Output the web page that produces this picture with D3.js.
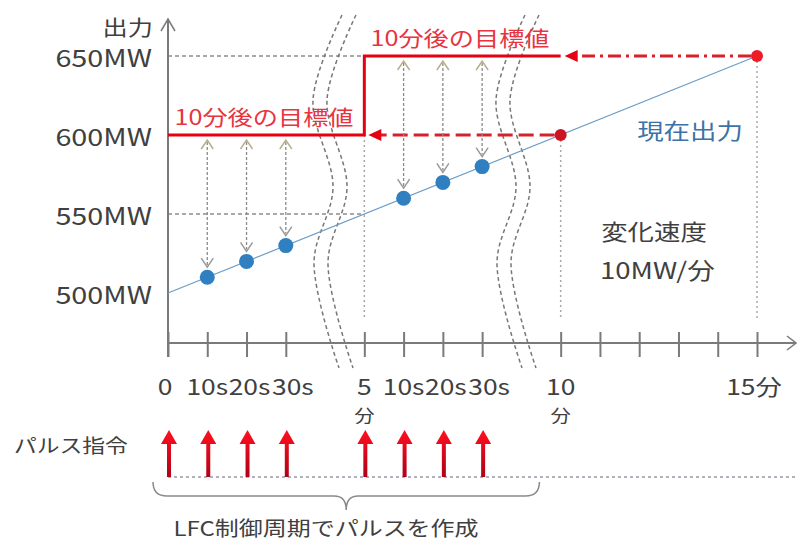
<!DOCTYPE html>
<html>
<head>
<meta charset="utf-8">
<script src="https://cdn.jsdelivr.net/npm/d3@7"></script>
<style>
  html, body { margin: 0; padding: 0; background: #fff; }
  svg { display: block; font-family: "Noto Sans CJK JP", "Noto Sans", sans-serif; }
</style>
</head>
<body>
<svg id="chart" width="797" height="542"></svg>
<script>
// ---- data -------------------------------------------------------------
// x positions are "slots": 0,10s,20s,30s | 5分,+10s,+20s,+30s | 10分 .. 15分
const tickSlots   = [0, 1, 2, 3, 5, 6, 7, 8, 10, 11, 12, 13, 14, 15];
const yTicks      = [500, 550, 600, 650];
const yTickLabels = ["500MW", "550MW", "600MW", "650MW"];

const xLabelSlots = [0, 1, 2, 3, 5, 6, 7, 8, 10, 15];
const xLabels     = ["0", "10s", "20s", "30s", "5\n分", "10s", "20s", "30s", "10\n分", "15分"];

// present output (rate 10MW/分)
const outputSlots  = [0, 15];
const outputValues = [500, 650];

// output sampled at each LFC cycle
const sampleSlots   = [1, 2, 3, 6, 7, 8];
const sampleValues  = [510, 520, 530, 560, 570, 580];
const sampleTargets = [600, 600, 600, 650, 650, 650];

// target 10 minutes ahead
const targetSlots  = [0, 5, 5, 10];
const targetValues = [600, 600, 650, 650];
const targetDotSlots  = [10, 15];
const targetDotValues = [600, 650];

// pulse commands
const pulseSlots = [0, 1, 2, 3, 5, 6, 7, 8];

// ---- layout -----------------------------------------------------------
const svg = d3.select("#chart");
const x = d3.scaleLinear().domain([0, 15]).range([168, 757]);
const y = d3.scaleLinear().domain([500, 650]).range([293, 56]);
const axisY = 343;
const SX = 1.2;                 // horizontal text stretch
const gray = "#7a7a7a", textCol = "#404040";
const red = "#e60012", redText = "#e8343f", blue = "#2f7fc1";

function txt(s, tx, ty, size, color, anchor = "middle") {
  svg.append("text")
    .attr("transform", `translate(${tx},${ty}) scale(${SX},1)`)
    .attr("text-anchor", anchor)
    .attr("dominant-baseline", "central")
    .style("font-size", size + "px")
    .attr("fill", color)
    .text(s);
}

const defs = svg.append("defs");
const grad = defs.append("linearGradient").attr("id", "pulseGrad")
  .attr("x1", 0).attr("y1", 0).attr("x2", 0).attr("y2", 1);
grad.append("stop").attr("offset", "0%").attr("stop-color", "#ff1020");
grad.append("stop").attr("offset", "100%").attr("stop-color", "#b00018");

// ---- grid / guides ----------------------------------------------------
[650, 550].forEach(v => {
  svg.append("line")
    .attr("x1", x(0)).attr("x2", x(5)).attr("y1", y(v)).attr("y2", y(v))
    .attr("stroke", "#555").attr("stroke-width", 1.2).attr("stroke-dasharray", "4,3");
});

// vertical dotted guides
[[5, 600], [10, 600], [15, 650]].forEach(([s, v]) => {
  svg.append("line")
    .attr("x1", x(s)).attr("x2", x(s)).attr("y1", y(v)).attr("y2", axisY - 23)
    .attr("stroke", "#a8a8a8").attr("stroke-width", 1.5).attr("stroke-dasharray", "2,3");
});

// ---- axis break marks -------------------------------------------------
const breakShape = [[15, 15], [-14, 100], [6, 187], [-13, 263], [12, 368]];
const waveLine = d3.line().curve(d3.curveCatmullRom.alpha(0.5));
[327, 510].forEach(cx => {
  [0, 14].forEach(off => {
    svg.append("path")
      .attr("d", waveLine(breakShape.map(([dx, py]) => [cx + dx + off, py])))
      .attr("fill", "none").attr("stroke", "#777").attr("stroke-width", 1.5)
      .attr("stroke-dasharray", "4,3");
  });
});

// ---- axes -------------------------------------------------------------
// x axis line with open arrow head
svg.append("line").attr("x1", x(0)).attr("x2", 795).attr("y1", axisY).attr("y2", axisY)
  .attr("stroke", gray).attr("stroke-width", 2);
svg.append("path").attr("d", `M787,${axisY - 7} L796,${axisY} L787,${axisY + 7}`)
  .attr("fill", "none").attr("stroke", gray).attr("stroke-width", 1.5);

// ticks crossing the axis
const xAxis = d3.axisBottom(x).tickValues(tickSlots).tickSize(25).tickFormat("");
const gx = svg.append("g").attr("transform", `translate(0,${axisY - 11})`).call(xAxis);
gx.select(".domain").remove();
gx.selectAll(".tick line").attr("stroke", gray).attr("stroke-width", 2);

// y axis with open arrow head
svg.append("line").attr("x1", x(0)).attr("x2", x(0)).attr("y1", axisY + 14).attr("y2", 19)
  .attr("stroke", gray).attr("stroke-width", 2);
svg.append("path").attr("d", `M${x(0) - 7},31 L${x(0)},19 L${x(0) + 7},31`)
  .attr("fill", "none").attr("stroke", gray).attr("stroke-width", 1.5);

// y labels
yTicks.forEach((v, i) => txt(yTickLabels[i], 152, y(v) + 1, 24, textCol, "end"));
txt("出力", 153, 26, 21, textCol, "end");

// x labels; the 10s/20s/30s labels sit side by side, nudged right
const secNudge = { 1: 0, 2: 3, 3: 7, 6: 0, 7: 3, 8: 7 };
xLabelSlots.forEach((s, i) => {
  const lines = xLabels[i].split("\n");
  const dx = (secNudge[s] ?? 0) + (s === 0 || s === 15 ? -3 : 0);
  lines.forEach((ln, j) =>
    txt(ln, x(s) + dx, j === 0 ? 385 : 414, ln === "分" ? 17 : 22, textCol));
});

// ---- present output ---------------------------------------------------
svg.append("path")
  .attr("d", d3.line()(outputSlots.map((s, i) => [x(s), y(outputValues[i])])))
  .attr("stroke", "#6a9cc9").attr("stroke-width", 1.2).attr("fill", "none");

// ---- target step line -------------------------------------------------
svg.append("path")
  .attr("d", d3.line()(targetSlots.map((s, i) => [x(s), y(targetValues[i])])))
  .attr("stroke", red).attr("stroke-width", 3).attr("fill", "none");

// dashed arrows from future targets back to now
function leftArrow(fromSlot, toSlot, v, dash) {
  const yy = y(v), tip = x(toSlot) + 4;
  svg.append("line").attr("x1", x(fromSlot) - 6).attr("x2", tip + 10).attr("y1", yy).attr("y2", yy)
    .attr("stroke", "#d8202c").attr("stroke-width", 3).attr("stroke-dasharray", dash);
  svg.append("path").attr("d", `M${tip},${yy} L${tip + 13},${yy - 6} L${tip + 13},${yy + 6} Z`)
    .attr("fill", red);
}
leftArrow(10, 5, 600, "15,6");
leftArrow(15, 10, 650, "13,5,3,5");

targetDotSlots.forEach((s, i) => {
  svg.append("circle").attr("cx", x(s)).attr("cy", y(targetDotValues[i])).attr("r", 6)
    .attr("fill", i === 0 ? "#cc1422" : "#ee1c25");
});

// ---- sampled points with double-headed dashed arrows ------------------
sampleSlots.forEach((s, i) => {
  const cx = x(s), cy = y(sampleValues[i]), ty = y(sampleTargets[i]) + 5;
  const by = cy - 10;
  svg.append("line").attr("x1", cx).attr("x2", cx).attr("y1", ty + 2).attr("y2", by - 2)
    .attr("stroke", "#8a8a8a").attr("stroke-width", 1.3).attr("stroke-dasharray", "3,2");
  svg.append("path").attr("d", `M${cx - 6},${ty + 9} L${cx},${ty} L${cx + 6},${ty + 9}`)
    .attr("fill", "none").attr("stroke", "#b8ae8c").attr("stroke-width", 1.5);
  svg.append("path").attr("d", `M${cx - 6},${by - 9} L${cx},${by} L${cx + 6},${by - 9}`)
    .attr("fill", "none").attr("stroke", "#9a9a9a").attr("stroke-width", 1.5);
  svg.append("circle").attr("cx", cx).attr("cy", cy).attr("r", 7.5).attr("fill", blue);
});

// ---- annotations ------------------------------------------------------
txt("10分後の目標値", 264, 116, 21, redText);
txt("10分後の目標値", 460, 37, 21, redText);
txt("現在出力", 690, 129, 22, "#3c72a8");
txt("変化速度", 654, 230, 22, textCol);
txt("10MW/分", 600, 269, 23, textCol, "start");

// ---- pulse commands ---------------------------------------------------
const pulseBase = 477, pulseTop = 430;
svg.append("line").attr("x1", x(0)).attr("x2", 797).attr("y1", pulseBase).attr("y2", pulseBase)
  .attr("stroke", "#667").attr("stroke-width", 1.2).attr("stroke-dasharray", "3,3");
pulseSlots.forEach(s => {
  const cx = x(s) + 1;
  svg.append("path")
    .attr("d", `M${cx - 2},${pulseBase} L${cx - 2},${pulseTop + 14} L${cx - 8},${pulseTop + 14}
                L${cx},${pulseTop} L${cx + 8},${pulseTop + 14} L${cx + 2},${pulseTop + 14}
                L${cx + 2},${pulseBase} Z`)
    .attr("fill", "url(#pulseGrad)");
});
txt("パルス指令", 14, 445, 19, textCol, "start");

// brace under the pulse train
const bx0 = x(0) - 15, bx1 = x(9) + 18, bcx = (bx0 + bx1) / 2;
svg.append("path")
  .attr("d", `M${bx0},482 Q${bx0},496 ${bx0 + 14},496 L${bcx - 12},496 Q${bcx},496 ${bcx},510
              Q${bcx},496 ${bcx + 12},496 L${bx1 - 14},496 Q${bx1},496 ${bx1},482`)
  .attr("fill", "none").attr("stroke", "#8a8a8a").attr("stroke-width", 1.5);
txt("LFC制御周期でパルスを作成", 326, 527, 20, textCol);
</script>
</body>
</html>
